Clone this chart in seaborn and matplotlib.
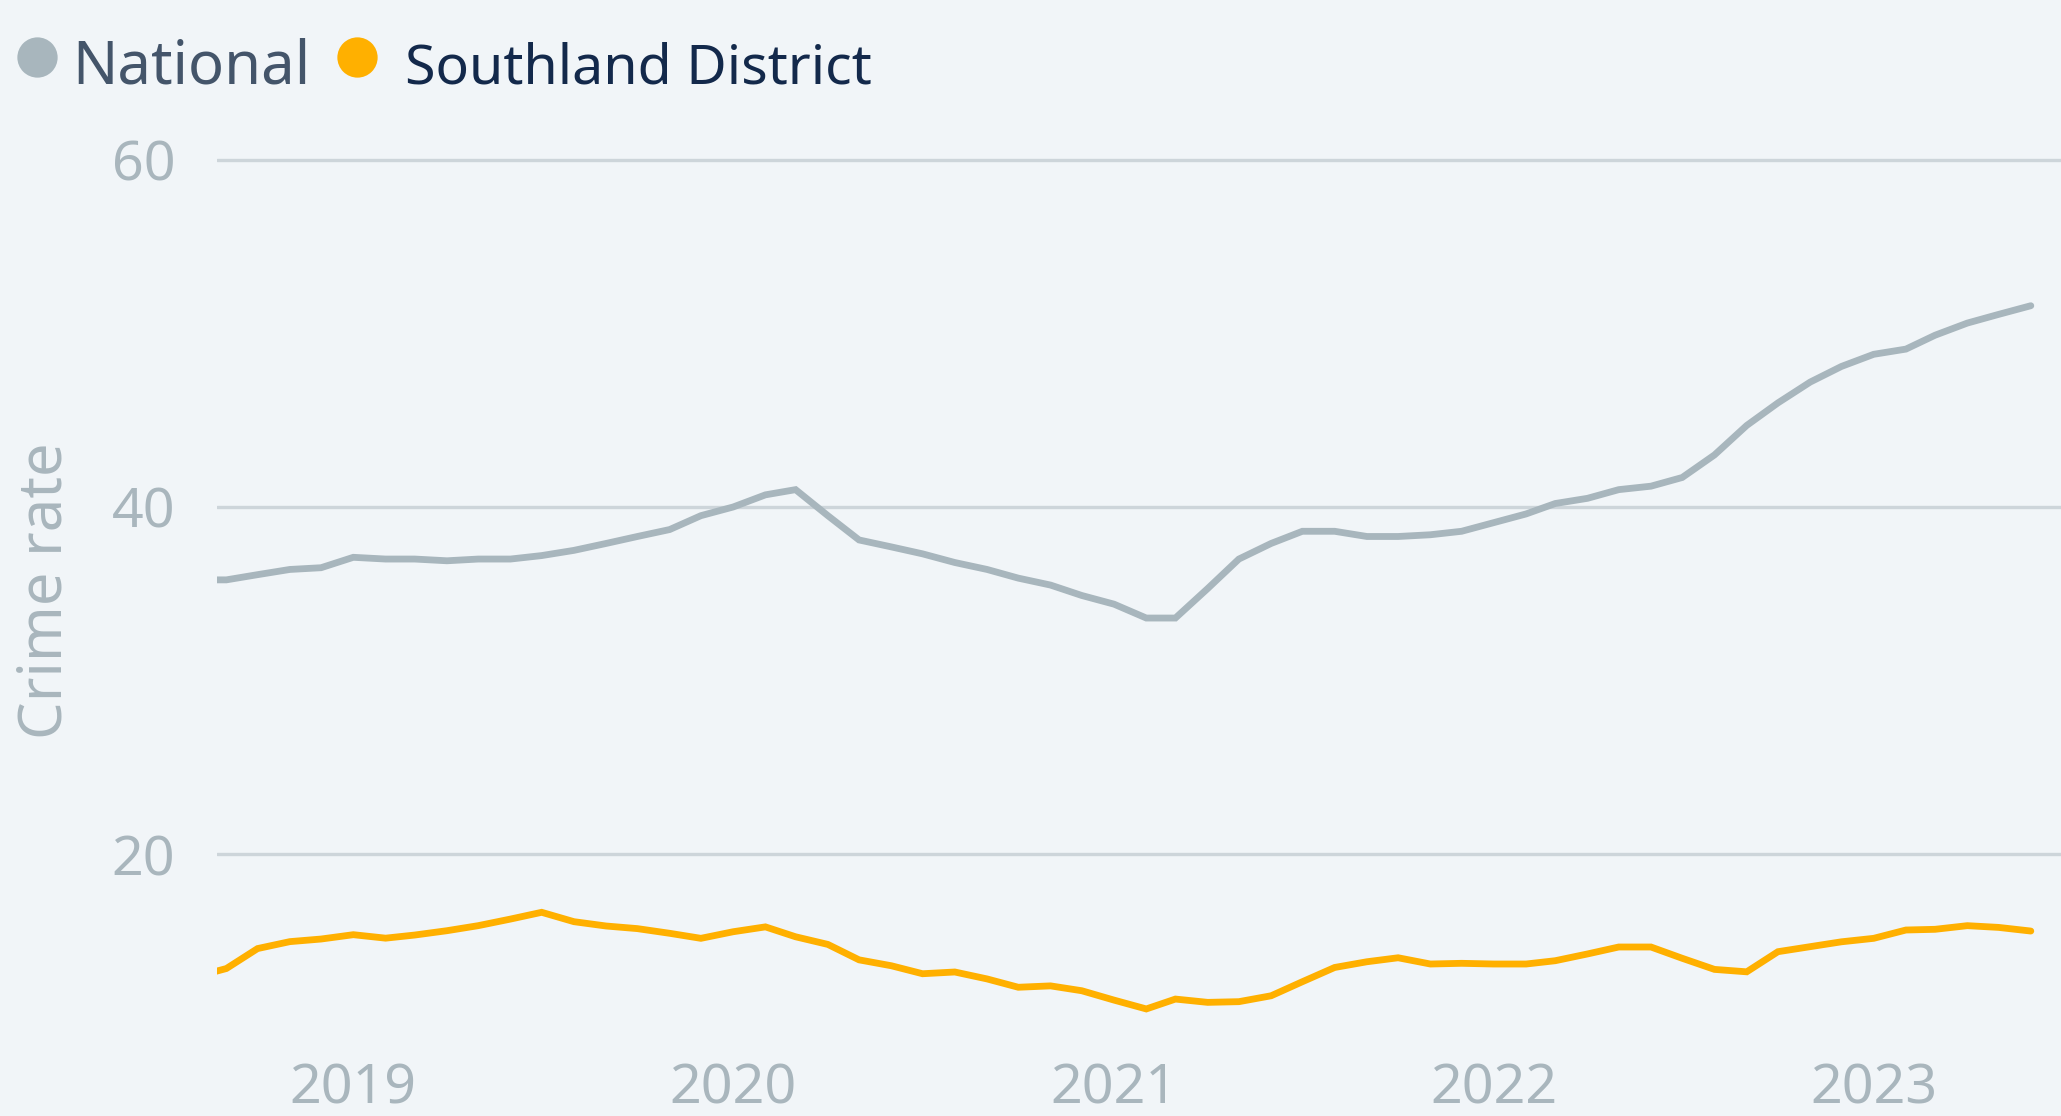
import matplotlib
matplotlib.use("Agg")
import matplotlib.pyplot as plt
import matplotlib.dates as mdates
from matplotlib.lines import Line2D
import pandas as pd
import seaborn as sns

# monthly series, Aug 2018 .. Jun 2023
months = pd.date_range("2018-08-01", "2023-06-01", freq="MS")

national = [
    35.8, 35.8, 36.1, 36.4, 36.5, 37.1, 37.0, 37.0, 36.9, 37.0,
    37.0, 37.2, 37.5, 37.9, 38.3, 38.7, 39.5, 40.0, 40.7, 41.0,
    39.5, 38.1, 37.7, 37.3, 36.8, 36.4, 35.9, 35.5, 34.9, 34.4,
    33.6, 33.6, 35.3, 37.0, 37.9, 38.6, 38.6, 38.3, 38.3, 38.4,
    38.6, 39.1, 39.6, 40.2, 40.5, 41.0, 41.2, 41.7, 43.0, 44.7,
    46.0, 47.2, 48.1, 48.8, 49.1, 49.9, 50.6, 51.1, 51.6,
]

southland = [
    12.9, 13.4, 14.55, 14.95, 15.1, 15.35, 15.15, 15.33, 15.58, 15.87,
    16.25, 16.64, 16.1, 15.85, 15.7, 15.43, 15.14, 15.52, 15.8, 15.23,
    14.79, 13.9, 13.56, 13.1, 13.2, 12.8, 12.32, 12.4, 12.12, 11.58,
    11.07, 11.64, 11.45, 11.49, 11.83, 12.64, 13.46, 13.79, 14.02, 13.66,
    13.7, 13.66, 13.66, 13.85, 14.24, 14.64, 14.64, 13.99, 13.35, 13.21,
    14.37, 14.66, 14.94, 15.14, 15.62, 15.66, 15.87, 15.77, 15.56,
]

series_names = ["National", "Southland District"]
y_ticks = [20, 40, 60]
year_ticks = pd.to_datetime(["2019-01-01", "2020-01-01", "2021-01-01",
                             "2022-01-01", "2023-01-01"])

grey = "#a8b6bd"
orange = "#ffb000"
bg = "#f1f5f8"
tick_col = "#a9b6bd"

df = pd.DataFrame({
    "month": list(months) * 2,
    "rate": national + southland,
    "area": [series_names[0]] * len(months) + [series_names[1]] * len(months),
})

sns.set_style("white")
plt.rcParams["font.family"] = ["Noto Sans", "DejaVu Sans"]

W, H = 2061, 1116
fig = plt.figure(figsize=(W / 100, H / 100), dpi=100, facecolor=bg)
ax = fig.add_axes([217 / W, 0.0684, 1 - 217 / W, 0.8038])
ax.set_facecolor(bg)

sns.lineplot(data=df, x="month", y="rate", hue="area",
             palette={series_names[0]: grey, series_names[1]: orange},
             linewidth=4.9, legend=False, ax=ax,
             solid_joinstyle="miter", solid_capstyle="round")

ax.set_ylim(9.3, 61)
ax.set_xlim(pd.Timestamp("2018-08-23"), pd.Timestamp("2023-06-30"))
ax.set_yticks(y_ticks)
ax.set_xticks(year_ticks)
ax.xaxis.set_major_formatter(mdates.DateFormatter("%Y"))
ax.grid(axis="y", color="#cdd5da", linewidth=2.4)
ax.grid(axis="x", visible=False)
for s in ax.spines.values():
    s.set_visible(False)
ax.tick_params(axis="both", length=0, labelsize=40, labelcolor=tick_col)
ax.tick_params(axis="x", pad=16)
ax.tick_params(axis="y", pad=30)
ax.set_xlabel("")
ax.set_ylabel("Crime rate", fontsize=43, color=tick_col)
ax.yaxis.set_label_coords(-0.077, 0.5)

# legend drawn by hand: circle + label
legend_items = [
    (37, 72, grey, "#44556a", 43),
    (357, 405, orange, "#13294b", 40),
]
for (cx, tx, mcol, tcol, fs), name in zip(legend_items, series_names):
    fig.add_artist(Line2D([cx / W], [1 - 57 / H], transform=fig.transFigure,
                          marker="o", markersize=29, linestyle="none",
                          markerfacecolor=mcol, markeredgecolor="none"))
    fig.text(tx / W, 1 - 83 / H, name, fontsize=fs, color=tcol,
             ha="left", va="baseline")

fig.savefig("out.png", dpi=100, facecolor=bg)
